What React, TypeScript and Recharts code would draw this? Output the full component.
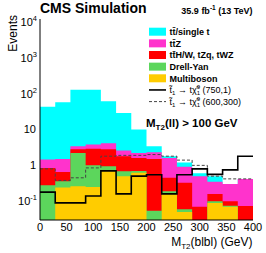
import React from 'react';
import { ComposedChart, Area, Line, XAxis, YAxis } from 'recharts';

// bin edges of MT2(blbl) in GeV (14 bins, last value closes the range)
const binEdges = [0, 28.6, 57.1, 85.7, 114.3, 142.9, 171.4, 200, 228.6, 257.1, 285.7, 314.3, 342.9, 371.4, 400];

// per-process yields, one value per bin
const ttbarSingleT = [41.5, 55.5, 125.6, 125.2, 56.9, 26.4, 7.8, 1.1, 0.2, 0.28, 0.1, 0.15, 0, 0];
const ttZ = [0.6, 0.85, 0.6, 0.9, 1.3, 0.8, 0.6, 0.8, 1.15, 0.59, 0.43, 0.19, 0.2, 0.34];
const ttX = [0.57, 0.29, 0.6, 1.9, 1.85, 1.11, 0.9, 1.45, 0.26, 0.27, 0.05, 0.06, 0.025, 0.054];
const drellYan = [0.27, 0.12, 1.94, 0.75, 0.23, 0.19, 0.08, 0.044, 0.02, 0.01, 0.01, 0.01, 0.005, 0.01];
const multiboson = [0.01, 0.24, 0.26, 0.25, 0.72, 0.5, 0.62, 0.01, 0.17, 0.05, 0.01, 0.09, 0.07, 0.01];

// signal points
const stop750 = [0.18, 0.09, 0.09, 0.14, 0.7, 0.16, 0.5, 0.55, 0.16, 0.55, 0.8, 0.56, 0.75, 1.8];
const stop600 = [0.8, 0.38, 0.45, 0.85, 1.8, 1.9, 1.9, 2.0, 1.8, 1.4, 1.0, 0.5, 0.42, 0.42];

const xTicks = [0, 50, 100, 150, 200, 250, 300, 350, 400];
const yTicks = [0.1, 1, 10, 100, 1000, 10000];
const xDomain = [0, 400];
const yDomain = [0.03, 12000];

const xMinor: number[] = [];
for (let v = 0; v <= 400; v += 10) xMinor.push(v);
const yMinor: number[] = [];
for (let e = -2; e <= 4; e++) {
  for (let m = 2; m <= 9; m++) {
    const v = m * Math.pow(10, e);
    if (v >= yDomain[0] && v <= yDomain[1]) yMinor.push(v);
  }
}

const rows = binEdges.map((x, i) => {
  const b = Math.min(i, binEdges.length - 2);
  const vv = multiboson[b];
  const dy = vv + drellYan[b];
  const tx = dy + ttX[b];
  const tz = tx + ttZ[b];
  const tt = tz + ttbarSingleT[b];
  return { x, vv, dy, tx, tz, tt, s1: stop750[b], s2: stop600[b] };
});

const FONT = '"Liberation Sans", Arial, Helvetica, sans-serif';

const stackColors = {
  tt: '#00ffff',
  tz: '#ff33cc',
  tx: '#ff0000',
  dy: '#5cd65c',
  vv: '#ffcc00',
};

function XTickLabel(props: any) {
  const { x, y, payload } = props;
  return (
    <text x={x} y={y + 11} textAnchor="middle" fontSize={11} fontFamily={FONT} fill="#000">
      {payload.value}
    </text>
  );
}

function YTickLabel(props: any) {
  const { x, y, payload } = props;
  const exp = Math.round(Math.log10(payload.value));
  if (exp === 0 || exp === 1) {
    return (
      <text x={x - 4} y={y + 4} textAnchor="end" fontSize={11} fontFamily={FONT} fill="#000">
        {exp === 0 ? '1' : '10'}
      </text>
    );
  }
  return (
    <text x={x - 3} y={y + 4} textAnchor="end" fontSize={11} fontFamily={FONT} fill="#000">
      10
      <tspan fontSize={7.5} dy={-5}>{exp}</tspan>
    </text>
  );
}

const legendRows = [
  { label: 'tt\u0304/single t', color: stackColors.tt },
  { label: 'tt\u0304Z', color: stackColors.tz },
  { label: 'tt\u0304H/W, tZq, tWZ', color: stackColors.tx },
  { label: 'Drell-Yan', color: stackColors.dy },
  { label: 'Multiboson', color: stackColors.vv },
];
const signalRows = [
  { mass: '(750,1)', dash: undefined, color: '#000', width: 1.6 },
  { mass: '(600,300)', dash: '3 2', color: '#444', width: 1 },
];

function Overlay() {
  const rowY = (i: number) => 31.7 + i * 11.65;
  return (
    <svg width={266} height={253} style={{ position: 'absolute', left: 0, top: 0, pointerEvents: 'none' }}>
      <text x={40} y={13} fontSize={14} fontWeight="bold" fontFamily={FONT} fill="#000">CMS Simulation</text>
      <text x={252.5} y={13.5} textAnchor="end" fontSize={9} fontWeight="bold" fontFamily={FONT} fill="#000">
        35.9 fb<tspan fontSize={6.5} dy={-3.5}>-1</tspan><tspan dy={3.5}> (13 TeV)</tspan>
      </text>
      <text transform="translate(16.5,15) rotate(-90)" textAnchor="end" fontSize={12} fontFamily={FONT} fill="#000">Events</text>
      <text x={252.5} y={245.5} textAnchor="end" fontSize={12} fontFamily={FONT} fill="#000">
        M<tspan fontSize={8} dy={3}>T2</tspan><tspan dy={-3}>(blbl) (GeV)</tspan>
      </text>
      {legendRows.map((r, i) => (
        <g key={r.label}>
          <rect x={149} y={rowY(i) - 4} width={17} height={8} fill={r.color} />
          <text x={169.5} y={rowY(i) + 3.3} fontSize={9} fontWeight="bold" fontFamily={FONT} fill="#000">{r.label}</text>
        </g>
      ))}
      {signalRows.map((r, j) => {
        const y = rowY(5 + j);
        return (
          <g key={r.mass}>
            <line x1={149} x2={166} y1={y} y2={y} stroke={r.color} strokeWidth={r.width} strokeDasharray={r.dash} />
            <text x={169.5} y={y + 3.3} fontSize={9} fontFamily={FONT} fill="#000">
              t{'\u0303'}<tspan fontSize={6} dy={2}>1</tspan>
              <tspan dy={-2}> {'\u2192'} t{'\u03c7\u0303'}</tspan>
              <tspan fontSize={6} dy={2}>1</tspan>
              <tspan fontSize={6} dx={-3.3} dy={-6}>0</tspan>
              <tspan dy={4}> {r.mass}</tspan>
            </text>
          </g>
        );
      })}
      <text x={146} y={127} fontSize={11.5} fontWeight="bold" fontFamily={FONT} fill="#000">
        M<tspan fontSize={8} dy={3}>T2</tspan><tspan dy={-3}>(ll) &gt; 100 GeV</tspan>
      </text>
    </svg>
  );
}

export default function App() {
  return (
    <div style={{ position: 'absolute', left: 0, top: 0, width: 266, height: 253, background: '#fff' }}>
      <ComposedChart width={266} height={253} data={rows} margin={{ top: 19, right: 13, bottom: 0, left: 0 }}>
        <XAxis xAxisId="x" dataKey="x" type="number" domain={xDomain} ticks={xTicks} interval={0} allowDataOverflow
          height={33} tickSize={0} tickMargin={0} tickLine={false} tick={<XTickLabel />} axisLine={{ stroke: '#000' }} />
        <XAxis xAxisId="xbMajor" type="number" domain={xDomain} ticks={xTicks} interval={0} allowDataOverflow mirror height={0}
          tickSize={6} tick={false} axisLine={false} tickLine={{ stroke: '#000' }} />
        <XAxis xAxisId="xbMinor" type="number" domain={xDomain} ticks={xMinor} interval={0} allowDataOverflow mirror height={0}
          tickSize={3} tick={false} axisLine={false} tickLine={{ stroke: '#000' }} />
        <XAxis xAxisId="xtMajor" orientation="top" type="number" domain={xDomain} ticks={xTicks} interval={0} allowDataOverflow mirror height={0}
          tickSize={6} tick={false} axisLine={{ stroke: '#000' }} tickLine={{ stroke: '#000' }} />
        <XAxis xAxisId="xtMinor" orientation="top" type="number" domain={xDomain} ticks={xMinor} interval={0} allowDataOverflow mirror height={0}
          tickSize={3} tick={false} axisLine={false} tickLine={{ stroke: '#000' }} />
        <YAxis yAxisId="y" scale="log" type="number" domain={yDomain} ticks={yTicks} interval={0} allowDataOverflow
          width={40} tickSize={0} tickMargin={0} tickLine={false} tick={<YTickLabel />} axisLine={{ stroke: '#000' }} />
        <YAxis yAxisId="ylMajor" scale="log" type="number" domain={yDomain} ticks={yTicks} interval={0} allowDataOverflow mirror width={0}
          tickSize={7} tick={false} axisLine={false} tickLine={{ stroke: '#000' }} />
        <YAxis yAxisId="ylMinor" scale="log" type="number" domain={yDomain} ticks={yMinor} interval={0} allowDataOverflow mirror width={0}
          tickSize={3.5} tick={false} axisLine={false} tickLine={{ stroke: '#000' }} />
        <YAxis yAxisId="yrMajor" orientation="right" scale="log" type="number" domain={yDomain} ticks={yTicks} interval={0} allowDataOverflow mirror width={0}
          tickSize={7} tick={false} axisLine={{ stroke: '#000' }} tickLine={{ stroke: '#000' }} />
        <YAxis yAxisId="yrMinor" orientation="right" scale="log" type="number" domain={yDomain} ticks={yMinor} interval={0} allowDataOverflow mirror width={0}
          tickSize={3.5} tick={false} axisLine={false} tickLine={{ stroke: '#000' }} />
        {(['tt', 'tz', 'tx', 'dy', 'vv'] as const).map((k) => (
          <Area key={k} xAxisId="x" yAxisId="y" type="stepAfter" dataKey={k} baseValue={yDomain[0]}
            fill={stackColors[k]} fillOpacity={1} stroke="none" isAnimationActive={false} />
        ))}
        <Line xAxisId="x" yAxisId="y" type="stepAfter" dataKey="s2" stroke="#444" strokeWidth={1}
          strokeDasharray="3 2" dot={false} isAnimationActive={false} />
        <Line xAxisId="x" yAxisId="y" type="stepAfter" dataKey="s1" stroke="#000" strokeWidth={1.6}
          dot={false} isAnimationActive={false} />
      </ComposedChart>
      <Overlay />
    </div>
  );
}
